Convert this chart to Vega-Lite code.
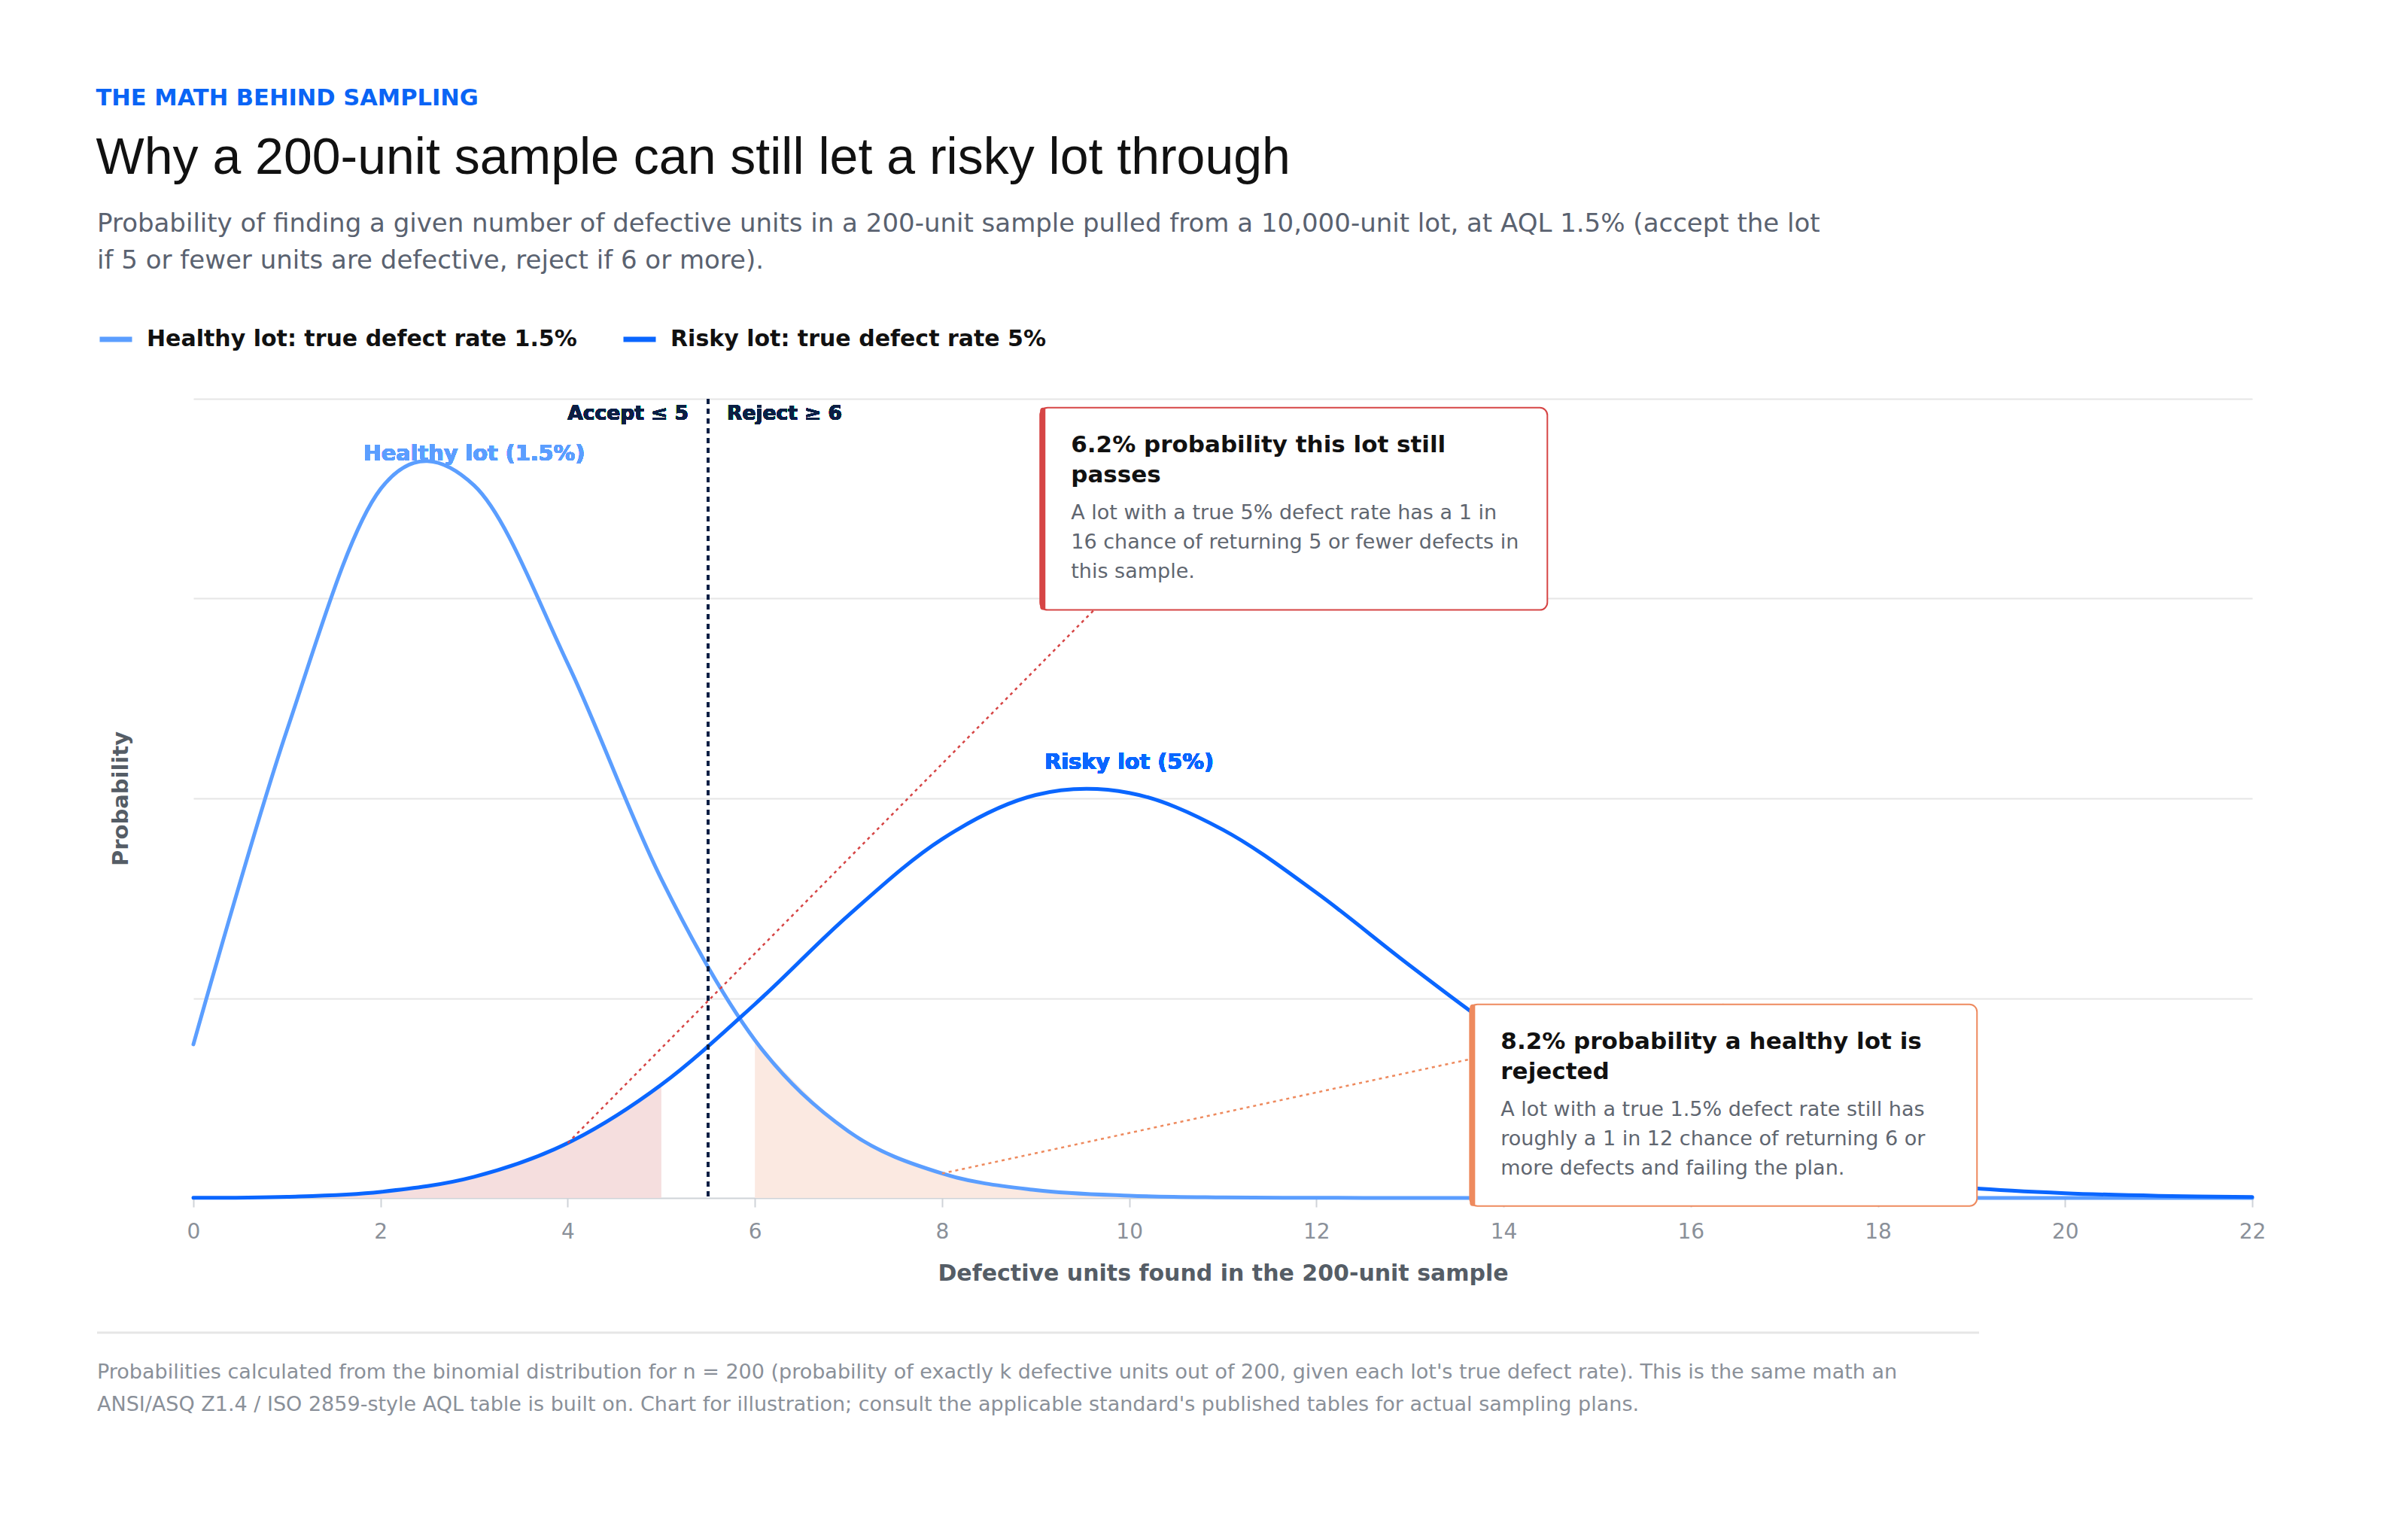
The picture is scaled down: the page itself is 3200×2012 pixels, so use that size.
{
  "$schema": "https://vega.github.io/schema/vega-lite/v6.json",
  "background": "white",
  "padding": {"left": 127, "top": 116, "right": 20, "bottom": 10},
  "config": {"font": "DejaVu Sans", "view": {"stroke": null}},
  "title": {
    "text": "THE MATH BEHIND SAMPLING",
    "subtitle": "Why a 200-unit sample can still let a risky lot through",
    "anchor": "start",
    "frame": "bounds",
    "font": "DejaVu Sans",
    "fontSize": 30.5,
    "fontWeight": "bold",
    "color": "#0a64f5",
    "subtitleFont": "Liberation Sans",
    "subtitleFontSize": 68,
    "subtitleColor": "#111111",
    "subtitleFontWeight": "normal",
    "subtitlePadding": 30,
    "offset": 36
  },
  "datasets": {
    "pmf": [
      {"lot": "Healthy lot: true defect rate 1.5%", "k": 0, "p": 0.048665},
      {"lot": "Healthy lot: true defect rate 1.5%", "k": 1, "p": 0.148244},
      {"lot": "Healthy lot: true defect rate 1.5%", "k": 2, "p": 0.224616},
      {"lot": "Healthy lot: true defect rate 1.5%", "k": 3, "p": 0.225757},
      {"lot": "Healthy lot: true defect rate 1.5%", "k": 4, "p": 0.169317},
      {"lot": "Healthy lot: true defect rate 1.5%", "k": 5, "p": 0.101076},
      {"lot": "Healthy lot: true defect rate 1.5%", "k": 6, "p": 0.050026},
      {"lot": "Healthy lot: true defect rate 1.5%", "k": 7, "p": 0.021113},
      {"lot": "Healthy lot: true defect rate 1.5%", "k": 8, "p": 0.007757},
      {"lot": "Healthy lot: true defect rate 1.5%", "k": 9, "p": 0.00252},
      {"lot": "Healthy lot: true defect rate 1.5%", "k": 10, "p": 0.000733},
      {"lot": "Healthy lot: true defect rate 1.5%", "k": 11, "p": 0.000193},
      {"lot": "Healthy lot: true defect rate 1.5%", "k": 12, "p": 0.0000463},
      {"lot": "Healthy lot: true defect rate 1.5%", "k": 13, "p": 0.0000102},
      {"lot": "Healthy lot: true defect rate 1.5%", "k": 14, "p": 0.0000021},
      {"lot": "Healthy lot: true defect rate 1.5%", "k": 15, "p": 0.0000004},
      {"lot": "Healthy lot: true defect rate 1.5%", "k": 16, "p": 0.0000001},
      {"lot": "Healthy lot: true defect rate 1.5%", "k": 17, "p": 0},
      {"lot": "Healthy lot: true defect rate 1.5%", "k": 18, "p": 0},
      {"lot": "Healthy lot: true defect rate 1.5%", "k": 19, "p": 0},
      {"lot": "Healthy lot: true defect rate 1.5%", "k": 20, "p": 0},
      {"lot": "Healthy lot: true defect rate 1.5%", "k": 21, "p": 0},
      {"lot": "Healthy lot: true defect rate 1.5%", "k": 22, "p": 0},
      {"lot": "Risky lot: true defect rate 5%", "k": 0, "p": 0.0000351},
      {"lot": "Risky lot: true defect rate 5%", "k": 1, "p": 0.000369},
      {"lot": "Risky lot: true defect rate 5%", "k": 2, "p": 0.001932},
      {"lot": "Risky lot: true defect rate 5%", "k": 3, "p": 0.006711},
      {"lot": "Risky lot: true defect rate 5%", "k": 4, "p": 0.017396},
      {"lot": "Risky lot: true defect rate 5%", "k": 5, "p": 0.035891},
      {"lot": "Risky lot: true defect rate 5%", "k": 6, "p": 0.061393},
      {"lot": "Risky lot: true defect rate 5%", "k": 7, "p": 0.089551},
      {"lot": "Risky lot: true defect rate 5%", "k": 8, "p": 0.113706},
      {"lot": "Risky lot: true defect rate 5%", "k": 9, "p": 0.12767},
      {"lot": "Risky lot: true defect rate 5%", "k": 10, "p": 0.128342},
      {"lot": "Risky lot: true defect rate 5%", "k": 11, "p": 0.116675},
      {"lot": "Risky lot: true defect rate 5%", "k": 12, "p": 0.096717},
      {"lot": "Risky lot: true defect rate 5%", "k": 13, "p": 0.073615},
      {"lot": "Risky lot: true defect rate 5%", "k": 14, "p": 0.051752},
      {"lot": "Risky lot: true defect rate 5%", "k": 15, "p": 0.033775},
      {"lot": "Risky lot: true defect rate 5%", "k": 16, "p": 0.020554},
      {"lot": "Risky lot: true defect rate 5%", "k": 17, "p": 0.011709},
      {"lot": "Risky lot: true defect rate 5%", "k": 18, "p": 0.006265},
      {"lot": "Risky lot: true defect rate 5%", "k": 19, "p": 0.003159},
      {"lot": "Risky lot: true defect rate 5%", "k": 20, "p": 0.001505},
      {"lot": "Risky lot: true defect rate 5%", "k": 21, "p": 0.000679},
      {"lot": "Risky lot: true defect rate 5%", "k": 22, "p": 0.000291}
    ],
    "notes": [
      {
        "id": "risk",
        "x0": 9.048, "x1": 14.468, "cx": 11.758,
        "ytop": 0.2504, "ybot": 0.1863,
        "ax": 4, "ay": 0.017396,
        "headline": ["6.2% probability this lot still", "passes"],
        "body": ["A lot with a true 5% defect rate has a 1 in", "16 chance of returning 5 or fewer defects in", "this sample."]
      },
      {
        "id": "healthy",
        "x0": 13.64, "x1": 19.059, "cx": 16.35,
        "ytop": 0.06134, "ybot": -0.00255,
        "ax": 8, "ay": 0.007757,
        "headline": ["8.2% probability a healthy lot is", "rejected"],
        "body": ["A lot with a true 1.5% defect rate still has", "roughly a 1 in 12 chance of returning 6 or", "more defects and failing the plan."]
      }
    ]
  },
  "spacing": 62,
  "vconcat": [
    {
      "width": 2736,
      "height": 1062,
      "title": {
        "text": [
          "Probability of finding a given number of defective units in a 200-unit sample pulled from a 10,000-unit lot, at AQL 1.5% (accept the lot",
          "if 5 or fewer units are defective, reject if 6 or more)."
        ],
        "anchor": "start",
        "frame": "bounds",
        "dx": -17,
        "font": "DejaVu Sans",
        "fontSize": 34,
        "fontWeight": "normal",
        "color": "#5a6270",
        "lineHeight": 49,
        "offset": 165
      },
      "data": {"name": "pmf"},
      "layer": [
        {
          "transform": [{"filter": "datum.lot === 'Risky lot: true defect rate 5%' && datum.k <= 5"}],
          "mark": {"type": "area", "color": "#f5dede", "interpolate": "cardinal"},
          "encoding": {
            "x": {"field": "k", "type": "quantitative"},
            "y": {"field": "p", "type": "quantitative"}
          }
        },
        {
          "transform": [{"filter": "datum.lot === 'Healthy lot: true defect rate 1.5%' && datum.k >= 6"}],
          "mark": {"type": "area", "color": "#fbe9e1", "interpolate": "cardinal"},
          "encoding": {
            "x": {"field": "k", "type": "quantitative"},
            "y": {"field": "p", "type": "quantitative"}
          }
        },
        {
          "mark": {"type": "line", "strokeWidth": 5, "interpolate": "cardinal", "strokeCap": "round", "strokeJoin": "round"},
          "encoding": {
            "x": {
              "field": "k",
              "type": "quantitative",
              "scale": {"domain": [0, 22], "nice": false, "zero": false},
              "axis": {
                "values": [0, 2, 4, 6, 8, 10, 12, 14, 16, 18, 20, 22],
                "format": "d",
                "labelFlush": false,
                "grid": false,
                "domainColor": "#cfd3d8",
                "domainWidth": 2,
                "tickColor": "#cfd3d8",
                "tickWidth": 2,
                "tickSize": 12,
                "labelFontSize": 28,
                "labelColor": "#8a9099",
                "labelPadding": 19,
                "title": "Defective units found in the 200-unit sample",
                "titleFontSize": 30,
                "titleFontWeight": "bold",
                "titleColor": "#555d66",
                "titlePadding": 26
              }
            },
            "y": {
              "field": "p",
              "type": "quantitative",
              "scale": {"domain": [0, 0.2532], "nice": false},
              "axis": {
                "values": [0.0633, 0.1266, 0.1899, 0.2532],
                "labels": false,
                "ticks": false,
                "domain": false,
                "grid": true,
                "gridColor": "#e6e6e6",
                "gridWidth": 2,
                "title": "Probability",
                "titleFontSize": 29,
                "titleFontWeight": "bold",
                "titleColor": "#555d66",
                "titlePadding": 82
              }
            },
            "color": {
              "field": "lot",
              "type": "nominal",
              "scale": {
                "domain": ["Healthy lot: true defect rate 1.5%", "Risky lot: true defect rate 5%"],
                "range": ["#5b9eff", "#0a66ff"]
              },
              "legend": {
                "orient": "none",
                "legendX": -128,
                "legendY": -104,
                "direction": "horizontal",
                "title": null,
                "symbolType": "stroke",
                "symbolStrokeWidth": 7,
                "symbolSize": 1849,
                "labelFont": "DejaVu Sans",
                "labelFontSize": 30,
                "labelFontWeight": "bold",
                "labelColor": "#111111",
                "labelOffset": 16,
                "labelLimit": 1000,
                "columnPadding": 47,
                "padding": 0
              }
            }
          }
        },
        {
          "mark": {"type": "rule", "color": "#0b1f44", "strokeWidth": 3, "strokeDash": [7, 6]},
          "encoding": {"x": {"datum": 5.5, "type": "quantitative"}}
        },
        {
          "mark": {"type": "text", "text": "Accept ≤ 5", "align": "right", "baseline": "alphabetic", "dx": -26, "dy": 28, "fontSize": 26.5, "fontWeight": "bold", "color": "#0b1f44"},
          "encoding": {
            "x": {"datum": 5.5, "type": "quantitative"},
            "y": {"datum": 0.2532, "type": "quantitative"}
          }
        },
        {
          "mark": {"type": "text", "text": "Reject ≥ 6", "align": "left", "baseline": "alphabetic", "dx": 25, "dy": 28, "fontSize": 26.5, "fontWeight": "bold", "color": "#0b1f44"},
          "encoding": {
            "x": {"datum": 5.5, "type": "quantitative"},
            "y": {"datum": 0.2532, "type": "quantitative"}
          }
        },
        {
          "mark": {"type": "text", "text": "Healthy lot (1.5%)", "align": "center", "baseline": "alphabetic", "dy": -33, "fontSize": 28.7, "fontWeight": "bold", "color": "#5b9eff"},
          "encoding": {
            "x": {"datum": 3, "type": "quantitative"},
            "y": {"datum": 0.225757, "type": "quantitative"}
          }
        },
        {
          "mark": {"type": "text", "text": "Risky lot (5%)", "align": "center", "baseline": "alphabetic", "dy": -32, "fontSize": 28.7, "fontWeight": "bold", "color": "#0a66ff"},
          "encoding": {
            "x": {"datum": 10, "type": "quantitative"},
            "y": {"datum": 0.128342, "type": "quantitative"}
          }
        },
        {
          "data": {"name": "notes"},
          "mark": {"type": "rule", "strokeWidth": 2.5, "strokeDash": [4, 5]},
          "encoding": {
            "x": {"field": "ax", "type": "quantitative"},
            "y": {"field": "ay", "type": "quantitative"},
            "x2": {"field": "cx"},
            "y2": {"field": "ytop"},
            "stroke": {"field": "id", "type": "nominal", "scale": {"domain": ["risk", "healthy"], "range": ["#d64545", "#ee8a5e"]}, "legend": null}
          }
        },
        {
          "data": {"name": "notes"},
          "mark": {"type": "rect", "fill": "white", "strokeWidth": 2, "cornerRadius": 10},
          "encoding": {
            "x": {"field": "x0", "type": "quantitative"},
            "x2": {"field": "x1"},
            "y": {"field": "ytop", "type": "quantitative"},
            "y2": {"field": "ybot"},
            "stroke": {"field": "id", "type": "nominal", "scale": {"domain": ["risk", "healthy"], "range": ["#d64545", "#ee8a5e"]}, "legend": null}
          }
        },
        {
          "data": {"name": "notes"},
          "mark": {"type": "rect", "x2Offset": 7, "cornerRadiusTopLeft": 10, "cornerRadiusBottomLeft": 10},
          "encoding": {
            "x": {"field": "x0", "type": "quantitative"},
            "x2": {"field": "x0"},
            "y": {"field": "ytop", "type": "quantitative"},
            "y2": {"field": "ybot"},
            "fill": {"field": "id", "type": "nominal", "scale": {"domain": ["risk", "healthy"], "range": ["#d64545", "#ee8a5e"]}, "legend": null}
          }
        },
        {
          "data": {"name": "notes"},
          "mark": {"type": "text", "align": "left", "baseline": "alphabetic", "dx": 41, "dy": 59, "fontSize": 31, "fontWeight": "bold", "color": "#111111", "lineHeight": 40},
          "encoding": {
            "x": {"field": "x0", "type": "quantitative"},
            "y": {"field": "ytop", "type": "quantitative"},
            "text": {"field": "headline"}
          }
        },
        {
          "data": {"name": "notes"},
          "mark": {"type": "text", "align": "left", "baseline": "alphabetic", "dx": 41, "dy": 148, "fontSize": 27, "color": "#5f6670", "lineHeight": 39},
          "encoding": {
            "x": {"field": "x0", "type": "quantitative"},
            "y": {"field": "ytop", "type": "quantitative"},
            "text": {"field": "body"}
          }
        }
      ]
    },
    {
      "width": 2501,
      "height": 1,
      "title": {
        "text": [
          "Probabilities calculated from the binomial distribution for n = 200 (probability of exactly k defective units out of 200, given each lot's true defect rate). This is the same math an",
          "ANSI/ASQ Z1.4 / ISO 2859-style AQL table is built on. Chart for illustration; consult the applicable standard's published tables for actual sampling plans."
        ],
        "orient": "bottom",
        "anchor": "start",
        "frame": "group",
        "dx": -128,
        "font": "DejaVu Sans",
        "fontSize": 27,
        "fontWeight": "normal",
        "color": "#8a9099",
        "lineHeight": 43,
        "offset": 38
      },
      "data": {"values": [{"v": 1}]},
      "mark": {"type": "rule", "color": "#e6e6e6", "strokeWidth": 3, "xOffset": -128, "x2Offset": -128},
      "encoding": {
        "x": {"datum": 0, "type": "quantitative", "scale": {"domain": [0, 1]}, "axis": null},
        "x2": {"datum": 1},
        "y": {"field": "v", "type": "quantitative", "scale": {"domain": [0, 1]}, "axis": null}
      }
    }
  ]
}
